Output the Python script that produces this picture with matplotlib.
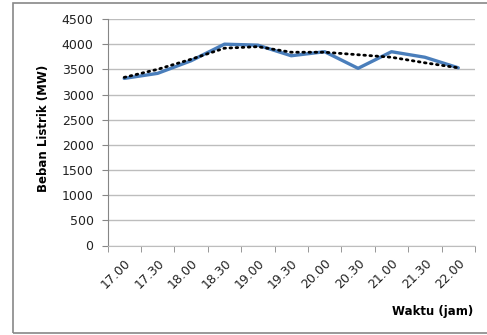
import matplotlib.pyplot as plt
from matplotlib.patches import Rectangle

waktu = ['17.00', '17.30', '18.00', '18.30', '19.00', '19.30',
         '20.00', '20.30', '21.00', '21.30', '22.00']
beban = [3320, 3420, 3670, 4000, 3980, 3770, 3850, 3520, 3850, 3740, 3530]
# dotted trend line
trend = [3340, 3500, 3700, 3920, 3950, 3840, 3840, 3790, 3740, 3630, 3530]

fig = plt.figure(figsize=(4.87, 3.35), dpi=100)
ax = fig.add_axes([107.5 / 487, 1 - 245.5 / 335, (475 - 107.5) / 487, (245.5 - 19) / 335])

x = list(range(len(waktu)))
ax.plot(x, beban, color='#4a7ebb', lw=2.4, solid_capstyle='round', zorder=3)
ax.plot(x, trend, color='black', lw=2.0, linestyle=(0, (0.6, 1.6)),
        dash_capstyle='round', zorder=4)

ax.set_xlim(-0.5, len(waktu) - 0.5)
ax.set_ylim(0, 4500)
ax.set_yticks(range(0, 4501, 500))
ax.yaxis.grid(True, color='#bdbdbd', lw=1)
ax.set_axisbelow(True)

ax.set_xticks(x)
ax.set_xticklabels(waktu, rotation=45, ha='right', rotation_mode='anchor', fontsize=9,
                   color='#222222')
ax.set_xticks([i - 0.5 for i in range(len(waktu) + 1)], minor=True)
ax.tick_params(axis='x', which='major', length=0, pad=8)
ax.tick_params(axis='x', which='minor', length=4, color='#868686', direction='out')
ax.tick_params(axis='y', length=4, color='#868686', labelsize=9, labelcolor='#222222', pad=6)

for s in ['top', 'right']:
    ax.spines[s].set_visible(False)
ax.spines['left'].set_color('#868686')
ax.spines['bottom'].set_color('#bdbdbd')

fig.text(44 / 487, 1 - 128 / 335, 'Beban Listrik (MW)', rotation=90, fontsize=8.5,
         fontweight='bold', ha='center', va='center')
fig.text(473 / 487, 1 - 312 / 335, 'Waktu (jam)', fontsize=8.5,
         fontweight='bold', ha='right', va='center')

fig.patches.append(Rectangle((13 / 487, 2 / 335), 1.0, 330 / 335, transform=fig.transFigure,
                             fill=False, edgecolor='#888888', lw=1.2))

fig.savefig('out.png', dpi=100)
